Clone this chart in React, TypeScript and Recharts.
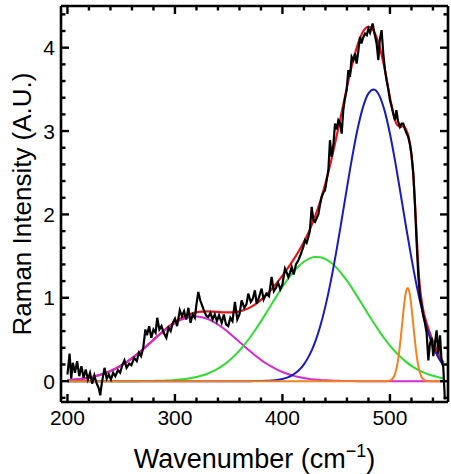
import { Label, Line, LineChart, XAxis, YAxis } from 'recharts'

// measured spectrum (black)
const spectrumWavenumber = [
  200, 202, 203.5, 205, 207, 209, 211, 213, 215, 217, 219, 221, 223, 225, 227, 229, 230.5, 232, 234.5, 236.5,
  238.5, 240.5, 242.5, 244.5, 247, 249, 251, 253, 255, 257.5, 259.5, 262, 264.5, 266.5, 268.5, 270.5, 272.5, 274, 276, 278,
  280, 282, 283.5, 285.5, 287.5, 289.5, 292, 294, 296, 298, 300, 302, 304.5, 306.5, 308.5, 310.5, 312.5, 314.5, 316.5, 318.5,
  320, 321.7, 323.5, 325.5, 327.5, 329.5, 331, 333, 335, 337, 339, 341, 343.5, 345.5, 347.5, 349.6, 351.5, 353.5, 355.8, 358,
  360, 362, 364.5, 366.5, 368.2, 370.5, 372.5, 374.4, 376, 378, 380.6, 382.5, 385, 387.5, 389.9, 392, 394, 396, 398, 400,
  402.3, 404, 405.5, 407, 408.6, 410.5, 412.5, 414.8, 417, 419.4, 421, 422.5, 424.1, 425.5, 427.2, 428.8, 430.3, 432, 433.4, 435,
  436.5, 438, 439.6, 441, 442.7, 444.2, 445.8, 447.5, 448.9, 450.5, 452, 453.5, 455.1, 456.6, 458, 459.7, 461.3, 462.8, 464.4, 466,
  467.5, 469, 470.5, 472.1, 473.5, 475, 476.8, 478.5, 479.9, 481.5, 483.9, 485.5, 487.6, 489.2, 490.5, 492.2, 493.8, 495.4, 496.9, 498.5,
  500, 501.5, 503.1, 504.7, 506, 507.5, 509.3, 510.8, 512.4, 514, 515.5, 517, 518.6, 520, 521.7, 523.3, 524.8, 526.4, 527.9, 529.5,
  531, 532.5, 534.1, 535.7, 537.2, 538.8, 540.3, 541.8, 543.4, 545, 546.6, 548, 549.6, 551.1,
]
const spectrumIntensity = [
  0.08, 0.33, 0.03, 0.22, 0.1, 0.24, 0.06, 0.18, 0.04, 0.14, 0.02, 0.1, -0.03, 0.07, -0.02, -0.08, -0.17, -0.02, 0.16, 0.03,
  0.08, 0.02, 0.1, 0.06, 0.13, 0.1, 0.19, 0.25, 0.16, 0.21, 0.19, 0.28, 0.24, 0.34, 0.3, 0.4, 0.62, 0.55, 0.66, 0.52,
  0.62, 0.58, 0.76, 0.62, 0.66, 0.58, 0.52, 0.64, 0.6, 0.7, 0.75, 0.66, 0.85, 0.78, 0.84, 0.74, 0.88, 0.7, 0.8, 0.76,
  0.92, 1.07, 0.97, 0.9, 0.83, 0.78, 0.77, 0.82, 0.74, 0.8, 0.72, 0.79, 0.7, 0.8, 0.68, 0.66, 0.76, 0.72, 0.95, 0.74,
  0.8, 0.97, 0.88, 0.92, 1.05, 0.95, 0.99, 1.09, 0.93, 1.0, 1.11, 0.98, 1.05, 1.02, 1.25, 1.08, 1.12, 1.18, 1.1, 1.16,
  1.35, 1.3, 1.25, 1.3, 1.37, 1.28, 1.4, 1.45, 1.52, 1.61, 1.69, 1.66, 1.73, 1.8, 2.09, 1.93, 1.91, 1.96, 2.0, 2.12,
  2.21, 2.26, 2.29, 2.4, 2.53, 2.89, 2.69, 2.85, 3.09, 3.02, 3.13, 3.1, 2.97, 3.25, 3.38, 3.49, 3.73, 3.65, 3.89, 3.85,
  3.93, 3.81, 3.95, 4.13, 4.05, 4.12, 4.17, 4.15, 4.23, 4.18, 4.29, 4.18, 4.05, 3.85, 4.09, 4.21, 3.93, 3.73, 3.61, 3.5,
  3.37, 3.3, 3.21, 3.13, 3.25, 3.12, 3.05, 3.09, 3.09, 3.02, 2.97, 2.93, 2.84, 2.72, 2.5, 2.1, 1.66, 1.26, 1.02, 0.9,
  0.78, 0.7, 0.58, 0.25, 0.45, 0.52, 0.3, 0.45, 0.61, 0.33, 0.55, 0.25, 0.17, -0.22,
]

// fitted peaks, sampled every 5 cm-1
const peakWavenumber = [
  200, 205, 210, 215, 220, 225, 230, 235, 240, 245, 250, 255, 260, 265, 270, 275, 280, 285, 290, 295,
  300, 305, 310, 315, 320, 325, 330, 335, 340, 345, 350, 355, 360, 365, 370, 375, 380, 385, 390, 395,
  400, 405, 410, 415, 420, 425, 430, 435, 440, 445, 450, 455, 460, 465, 470, 475, 480, 485, 490, 495,
  500, 505, 510, 515, 520, 525, 530, 535, 540, 545, 550,
]
const peak320 = [
  0.012, 0.016, 0.023, 0.031, 0.042, 0.056, 0.074, 0.095, 0.121, 0.152,
  0.188, 0.229, 0.275, 0.326, 0.379, 0.436, 0.493, 0.55, 0.604, 0.653,
  0.696, 0.731, 0.757, 0.771, 0.775, 0.767, 0.748, 0.718, 0.68, 0.634,
  0.582, 0.527, 0.47, 0.413, 0.358, 0.305, 0.256, 0.212, 0.173, 0.139,
  0.11, 0.086, 0.066, 0.05, 0.037, 0.027, 0.02, 0.014, 0.01, 0.007,
  0.005, 0.003, 0.002, 0.001, 0, 0, 0, 0, 0, 0,
  0, 0, 0, 0, 0, 0, 0, 0, 0, 0, 0,
]
const peak432 = [
  0, 0, 0, 0, 0, 0, 0, 0, 0, 0,
  0, 0, 0, 0, 0.001, 0.002, 0.003, 0.004, 0.006, 0.009,
  0.013, 0.019, 0.027, 0.037, 0.05, 0.067, 0.089, 0.117, 0.151, 0.192,
  0.242, 0.3, 0.367, 0.443, 0.527, 0.619, 0.717, 0.82, 0.925, 1.029,
  1.13, 1.223, 1.307, 1.378, 1.433, 1.47, 1.488, 1.486, 1.464, 1.423,
  1.365, 1.291, 1.205, 1.11, 1.008, 0.904, 0.799, 0.697, 0.6, 0.509,
  0.427, 0.353, 0.288, 0.231, 0.184, 0.144, 0.111, 0.085, 0.064, 0.047, 0.035,
]
const peak484 = [
  0, 0, 0, 0, 0, 0, 0, 0, 0, 0,
  0, 0, 0, 0, 0, 0, 0, 0, 0, 0,
  0, 0, 0, 0, 0, 0, 0, 0, 0, 0,
  0, 0, 0, 0, 0, 0.001, 0.002, 0.004, 0.008, 0.014,
  0.026, 0.046, 0.078, 0.127, 0.202, 0.309, 0.456, 0.652, 0.9, 1.2,
  1.547, 1.927, 2.319, 2.697, 3.03, 3.29, 3.452, 3.499, 3.428, 3.245,
  2.968, 2.624, 2.241, 1.849, 1.475, 1.136, 0.846, 0.609, 0.423, 0.284, 0.185,
]

// narrow peak near 517, finer sampling
const narrowWavenumber = [
  200, 496, 500, 501, 502, 503, 504, 505, 506, 507, 508, 509, 510, 511, 512, 513, 514, 515, 516, 517,
  518, 519, 520, 521, 522, 523, 524, 525, 526, 527, 528, 529, 530, 531, 532, 533, 537, 550,
]
const peak517 = [
  0, 0, 0.007, 0.013, 0.023, 0.039, 0.062, 0.097, 0.146, 0.211, 0.295, 0.396, 0.513, 0.64, 0.77, 0.893, 0.998, 1.074, 1.115, 1.115,
  1.074, 0.998, 0.893, 0.77, 0.64, 0.513, 0.396, 0.295, 0.211, 0.146, 0.097, 0.062, 0.039, 0.023, 0.013, 0.007, 0, 0,
]

// cumulative fit (red)
const fitWavenumber = [
  200, 205, 210, 215, 220, 225, 230, 235, 240, 245, 250, 255, 260, 265, 270, 275, 280, 285, 290, 295,
  300, 305, 310, 315, 320, 325, 330, 335, 340, 345, 350, 355, 360, 365, 370, 375, 380, 385, 390, 395,
  400, 405, 410, 415, 420, 425, 430, 435, 440, 445, 450, 455, 460, 465, 470, 475, 480, 485, 490, 495,
  500, 505, 507, 510, 512, 515, 517, 520, 522, 525, 527, 530, 535, 540, 545, 550,
]
const fitIntensity = [
  0.012, 0.016, 0.023, 0.031, 0.042, 0.056, 0.074, 0.095, 0.121, 0.152,
  0.188, 0.229, 0.275, 0.326, 0.38, 0.438, 0.496, 0.554, 0.61, 0.662,
  0.709, 0.75, 0.784, 0.808, 0.825, 0.834, 0.837, 0.835, 0.831, 0.826,
  0.824, 0.827, 0.837, 0.856, 0.885, 0.925, 0.975, 1.036, 1.106, 1.182,
  1.266, 1.355, 1.451, 1.555, 1.672, 1.806, 1.964, 2.152, 2.374, 2.63,
  2.917, 3.221, 3.526, 3.808, 4.038, 4.194, 4.251, 4.196, 4.028, 3.754,
  3.402, 3.12, 3.07, 3.05, 3.06, 3.02, 2.95, 2.72, 2.42, 1.72, 1.25, 0.92, 0.66, 0.48, 0.33, 0.22,
]

const xTicks = [200, 220, 240, 260, 280, 300, 320, 340, 360, 380, 400, 420, 440, 460, 480, 500, 520, 540]
const yTicks = [
  -0.2, 0, 0.2, 0.4, 0.6, 0.8, 1, 1.2, 1.4, 1.6, 1.8, 2, 2.2, 2.4, 2.6, 2.8, 3, 3.2, 3.4, 3.6, 3.8, 4, 4.2, 4.4,
]
const xMajor = [200, 300, 400, 500]
const yMajor = [0, 1, 2, 3, 4]

const FONT = '"Liberation Sans", Arial, sans-serif'
const FRAME = { stroke: '#000', strokeWidth: 2.6 }

const pts = (xs: number[], ys: number[]) => xs.map((x, i) => ({ x, y: ys[i] }))

const tickLen = (major: boolean) => (major ? 8 : 4.5)

function BottomTick({ x, y, payload }: any) {
  const major = xMajor.includes(payload.value)
  return (
    <g>
      <line x1={x} x2={x} y1={y} y2={y - tickLen(major)} stroke="#000" strokeWidth={2.4} />
      {major && (
        <text x={x} y={y + 23} textAnchor="middle" fontSize={21} fontFamily={FONT} fill="#000">
          {payload.value}
        </text>
      )}
    </g>
  )
}

function TopTick({ x, y, payload }: any) {
  const major = xMajor.includes(payload.value)
  return <line x1={x} x2={x} y1={y} y2={y + tickLen(major)} stroke="#000" strokeWidth={2.4} />
}

function LeftTick({ x, y, payload }: any) {
  const major = yMajor.includes(payload.value)
  return (
    <g>
      <line x1={x} x2={x + tickLen(major)} y1={y} y2={y} stroke="#000" strokeWidth={2.4} />
      {major && (
        <text x={x - 6} y={y + 7.5} textAnchor="end" fontSize={21} fontFamily={FONT} fill="#000">
          {payload.value}
        </text>
      )}
    </g>
  )
}

function RightTick({ x, y, payload }: any) {
  const major = yMajor.includes(payload.value)
  return <line x1={x} x2={x - tickLen(major)} y1={y} y2={y} stroke="#000" strokeWidth={2.4} />
}

export default function App() {
  return (
    <div style={{ position: 'absolute', left: 0, top: 0 }}>
      <LineChart width={451} height={474} margin={{ top: 5, right: 2, bottom: 0, left: 0 }}>
        <XAxis
          xAxisId="b"
          type="number"
          dataKey="x"
          domain={[194, 554]}
          allowDataOverflow
          ticks={xTicks}
          interval={0}
          height={72}
          tickSize={0}
          tickMargin={0}
          tickLine={false}
          axisLine={FRAME}
          tick={BottomTick}
        >
          <Label
            content={({ viewBox }: any) => (
              <text
                x={viewBox.x + viewBox.width / 2}
                y={viewBox.y + 66}
                textAnchor="middle"
                fontSize={27}
                fontFamily={FONT}
                fill="#000"
              >
                Wavenumber (cm
                <tspan fontSize={18} dy={-11}>
                  −1
                </tspan>
                <tspan dy={11}>)</tspan>
              </text>
            )}
          />
        </XAxis>
        <XAxis
          xAxisId="t"
          orientation="top"
          type="number"
          dataKey="x"
          domain={[194, 554]}
          allowDataOverflow
          ticks={xTicks}
          interval={0}
          height={1}
          tickSize={0}
          tickMargin={0}
          tickLine={false}
          axisLine={FRAME}
          tick={TopTick}
        />
        <YAxis
          yAxisId="l"
          type="number"
          domain={[-0.25, 4.5]}
          allowDataOverflow
          ticks={yTicks}
          interval={0}
          width={61}
          tickSize={0}
          tickMargin={0}
          tickLine={false}
          axisLine={FRAME}
          tick={LeftTick}
        >
          <Label
            content={({ viewBox }: any) => {
              const cy = viewBox.y + viewBox.height / 2
              return (
                <text
                  x={31}
                  y={cy}
                  transform={`rotate(-90, 31, ${cy})`}
                  textAnchor="middle"
                  fontSize={26}
                  fontFamily={FONT}
                  fill="#000"
                >
                  Raman Intensity (A.U.)
                </text>
              )
            }}
          />
        </YAxis>
        <YAxis
          yAxisId="r"
          orientation="right"
          type="number"
          domain={[-0.25, 4.5]}
          allowDataOverflow
          ticks={yTicks}
          interval={0}
          width={1}
          tickSize={0}
          tickMargin={0}
          tickLine={false}
          axisLine={FRAME}
          tick={RightTick}
        />

        <Line xAxisId="b" yAxisId="l" data={pts(fitWavenumber, fitIntensity)} dataKey="y" type="monotone"
          stroke="#e8141c" strokeWidth={2.2} dot={false} isAnimationActive={false} />
        <Line xAxisId="b" yAxisId="l" data={pts(peakWavenumber, peak320)} dataKey="y" type="monotone"
          stroke="#d42ad4" strokeWidth={2} dot={false} isAnimationActive={false} />
        <Line xAxisId="b" yAxisId="l" data={pts(peakWavenumber, peak432)} dataKey="y" type="monotone"
          stroke="#2fdc2f" strokeWidth={2} dot={false} isAnimationActive={false} />
        <Line xAxisId="b" yAxisId="l" data={pts(peakWavenumber, peak484)} dataKey="y" type="monotone"
          stroke="#1a1ac4" strokeWidth={2} dot={false} isAnimationActive={false} />
        <Line xAxisId="b" yAxisId="l" data={pts(narrowWavenumber, peak517)} dataKey="y" type="monotone"
          stroke="#f5821f" strokeWidth={2} dot={false} isAnimationActive={false} />
        <Line xAxisId="b" yAxisId="l" data={pts(spectrumWavenumber, spectrumIntensity)} dataKey="y" type="linear"
          stroke="#000" strokeWidth={2.2} dot={false} isAnimationActive={false} />
      </LineChart>
    </div>
  )
}
